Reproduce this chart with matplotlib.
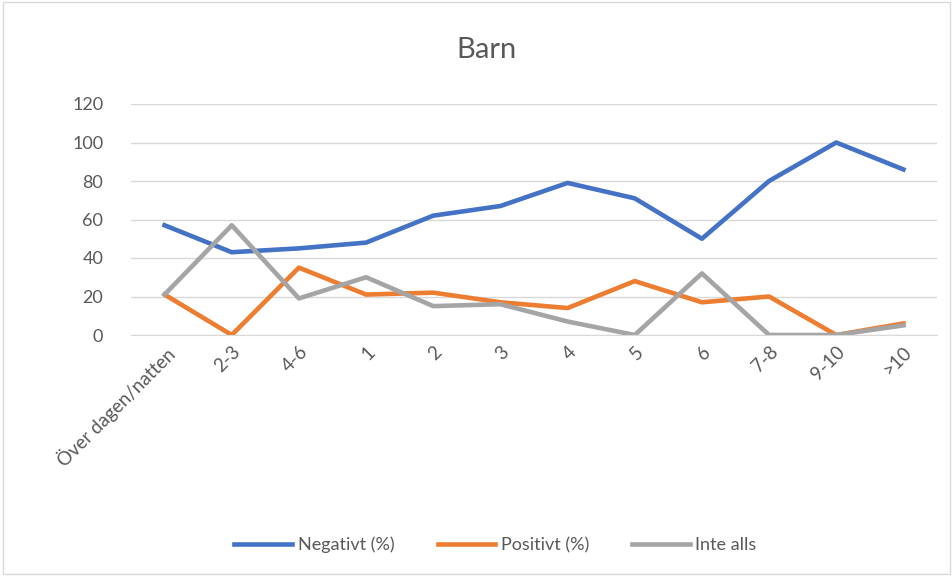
import numpy as np
import matplotlib.pyplot as plt

plt.rcParams['font.family'] = ['Lato', 'DejaVu Sans']

# Kategorier och serier
kategorier = ['Över dagen/natten', '2-3', '4-6', '1', '2', '3', '4', '5', '6', '7-8', '9-10', '>10']
negativt = [57, 43, 45, 48, 62, 67, 79, 71, 50, 80, 100, 86]
positivt = [21, 0, 35, 21, 22, 17, 14, 28, 17, 20, 0, 6]
inte_alls = [21, 57, 19, 30, 15, 16, 7, 0, 32, 0, 0, 5]

fig = plt.figure(figsize=(9.53, 5.76), dpi=100)
ax = fig.add_axes([131 / 953, 1 - 335 / 576, (937 - 131) / 953, (335 - 104) / 576])

x = np.arange(len(kategorier))
ax.plot(x, negativt, color='#4472C4', lw=3.3, label='Negativt (%)', solid_joinstyle='round')
ax.plot(x, positivt, color='#ED7D31', lw=3.3, label='Positivt (%)', solid_joinstyle='round')
ax.plot(x, inte_alls, color='#A5A5A5', lw=3.3, label='Inte alls', solid_joinstyle='round')

ax.set_xlim(-0.5, len(kategorier) - 0.5)
ax.set_ylim(0, 120)
ax.set_yticks(range(0, 121, 20))
ax.yaxis.grid(True, color='#D9D9D9', lw=1)
ax.set_axisbelow(True)
for s in ['top', 'right', 'left']:
    ax.spines[s].set_visible(False)
ax.spines['bottom'].set_color('#D9D9D9')
ax.tick_params(axis='y', length=0, colors='#595959', labelsize=13, pad=20)
ax.tick_params(axis='x', length=0, colors='#595959', labelsize=13.5, pad=6)
ax.set_xticks(x)
ax.set_xticklabels(kategorier, rotation=45, ha='right', rotation_mode='anchor')

fig.text(0.51, 1 - 50 / 576, 'Barn', ha='center', va='center', fontsize=21, color='#595959')

fig.legend(loc='center', bbox_to_anchor=(0.52, 1 - 545 / 576), ncol=3, frameon=False,
           fontsize=13, labelcolor='#595959', handlelength=3.2, handletextpad=0.3, columnspacing=2.4)

# Ram runt diagrammet
fig.patches.append(plt.Rectangle((0.003, 0.003), 0.994, 0.994, transform=fig.transFigure,
                                 fill=False, edgecolor='#D9D9D9', lw=1))

fig.savefig('out.png', dpi=100)
